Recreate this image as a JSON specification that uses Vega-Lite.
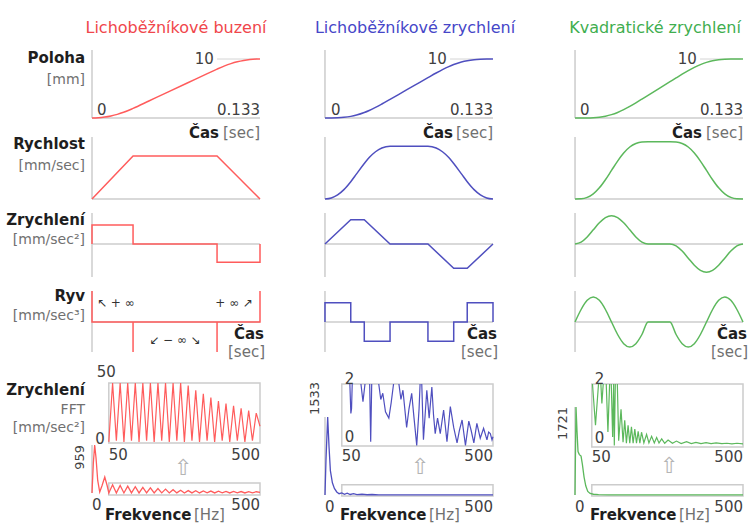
{
"$schema":"https://vega.github.io/schema/vega-lite/v6.json",
"padding":0,
"background":"white",
"config":{"view":{"stroke":null},"axis":{"disable":true},"text":{"font":"DejaVu Sans"}},
"columns":4,
"spacing":{"row":14,"column":7},
"align":"each",
"bounds":"flush",
"datasets":{
"pos1":[{"t":0,"v":0},{"t":0.005,"v":0.039},{"t":0.01,"v":0.154},{"t":0.015,"v":0.347},{"t":0.02,"v":0.617},{"t":0.025,"v":0.964},{"t":0.0325,"v":1.629},{"t":0.045,"v":2.882},{"t":0.06,"v":4.386},{"t":0.075,"v":5.89},{"t":0.09,"v":7.393},{"t":0.099,"v":8.296},{"t":0.105,"v":8.844},{"t":0.11,"v":9.22},{"t":0.115,"v":9.523},{"t":0.12,"v":9.751},{"t":0.125,"v":9.906},{"t":0.13,"v":9.987},{"t":0.133,"v":10}],
"pos2":[{"t":0,"v":0},{"t":0.005,"v":0.004},{"t":0.01,"v":0.032},{"t":0.015,"v":0.109},{"t":0.0204,"v":0.274},{"t":0.025,"v":0.501},{"t":0.0311,"v":0.93},{"t":0.035,"v":1.28},{"t":0.04,"v":1.797},{"t":0.045,"v":2.371},{"t":0.0515,"v":3.16},{"t":0.0615,"v":4.387},{"t":0.0715,"v":5.614},{"t":0.0815,"v":6.84},{"t":0.088,"v":7.629},{"t":0.093,"v":8.203},{"t":0.098,"v":8.72},{"t":0.1019,"v":9.07},{"t":0.108,"v":9.5},{"t":0.1126,"v":9.726},{"t":0.118,"v":9.891},{"t":0.123,"v":9.968},{"t":0.128,"v":9.996},{"t":0.133,"v":10}],
"pos3":[{"t":0,"v":0},{"t":0.00482,"v":0.001},{"t":0.00963,"v":0.009},{"t":0.01445,"v":0.046},{"t":0.01927,"v":0.135},{"t":0.02408,"v":0.304},{"t":0.0289,"v":0.571},{"t":0.03372,"v":0.944},{"t":0.03853,"v":1.416},{"t":0.04335,"v":1.967},{"t":0.04817,"v":2.571},{"t":0.05298,"v":3.203},{"t":0.0578,"v":3.843},{"t":0.0752,"v":6.157},{"t":0.08002,"v":6.797},{"t":0.08483,"v":7.429},{"t":0.08965,"v":8.033},{"t":0.09447,"v":8.584},{"t":0.09928,"v":9.056},{"t":0.1041,"v":9.429},{"t":0.10892,"v":9.696},{"t":0.11373,"v":9.865},{"t":0.11855,"v":9.955},{"t":0.12337,"v":9.991},{"t":0.12818,"v":9.999},{"t":0.133,"v":10}],
"vel1":[{"t":0,"v":0},{"t":0.0325,"v":100.25},{"t":0.099,"v":100.25},{"t":0.133,"v":0}],
"vel2":[{"t":0,"v":0},{"t":0.005,"v":2.42},{"t":0.01,"v":9.67},{"t":0.015,"v":21.76},{"t":0.0204,"v":40.24},{"t":0.025,"v":58.39},{"t":0.0311,"v":82.45},{"t":0.035,"v":96.37},{"t":0.04,"v":109.91},{"t":0.045,"v":118.61},{"t":0.0515,"v":122.7},{"t":0.0815,"v":122.7},{"t":0.088,"v":118.61},{"t":0.093,"v":109.91},{"t":0.098,"v":96.37},{"t":0.1019,"v":82.45},{"t":0.108,"v":58.39},{"t":0.1126,"v":40.24},{"t":0.118,"v":21.76},{"t":0.123,"v":9.67},{"t":0.128,"v":2.42},{"t":0.133,"v":0}],
"vel3":[{"t":0,"v":0},{"t":0.00482,"v":0.49},{"t":0.00963,"v":3.84},{"t":0.01445,"v":12.07},{"t":0.01927,"v":26.0},{"t":0.02408,"v":44.83},{"t":0.0289,"v":66.49},{"t":0.03372,"v":88.15},{"t":0.03853,"v":106.98},{"t":0.04335,"v":120.91},{"t":0.04817,"v":129.14},{"t":0.05298,"v":132.49},{"t":0.0578,"v":132.98},{"t":0.0752,"v":132.98},{"t":0.08002,"v":132.49},{"t":0.08483,"v":129.14},{"t":0.08965,"v":120.91},{"t":0.09447,"v":106.98},{"t":0.09928,"v":88.15},{"t":0.1041,"v":66.49},{"t":0.10892,"v":44.83},{"t":0.11373,"v":26.0},{"t":0.11855,"v":12.07},{"t":0.12337,"v":3.84},{"t":0.12818,"v":0.49},{"t":0.133,"v":0}],
"acc1":[{"t":0,"v":0},{"t":0,"v":3085},{"t":0.0325,"v":3085},{"t":0.0325,"v":0},{"t":0.099,"v":0},{"t":0.099,"v":-2949},{"t":0.133,"v":-2949},{"t":0.133,"v":0}],
"acc2":[{"t":0,"v":0},{"t":0.0204,"v":3945},{"t":0.0311,"v":3945},{"t":0.0515,"v":0},{"t":0.0815,"v":0},{"t":0.1019,"v":-3945},{"t":0.1126,"v":-3945},{"t":0.133,"v":0}],
"acc3":[{"t":0,"v":0},{"t":0.00482,"v":308.3},{"t":0.00963,"v":1150.4},{"t":0.01445,"v":2300.7},{"t":0.01927,"v":3451.1},{"t":0.02408,"v":4293.1},{"t":0.0289,"v":4601.4},{"t":0.03372,"v":4293.1},{"t":0.03853,"v":3451.1},{"t":0.04335,"v":2300.7},{"t":0.04817,"v":1150.4},{"t":0.05298,"v":308.3},{"t":0.0578,"v":0},{"t":0.0752,"v":0},{"t":0.08002,"v":-308.3},{"t":0.08483,"v":-1150.4},{"t":0.08965,"v":-2300.7},{"t":0.09447,"v":-3451.1},{"t":0.09928,"v":-4293.1},{"t":0.1041,"v":-4601.4},{"t":0.10892,"v":-4293.1},{"t":0.11373,"v":-3451.1},{"t":0.11855,"v":-2300.7},{"t":0.12337,"v":-1150.4},{"t":0.12818,"v":-308.3},{"t":0.133,"v":0}],
"jerk1":[{"t":0,"v":310000},{"t":0,"v":0},{"t":0.0325,"v":0},{"t":0.0325,"v":-300000},{"t":0.0325,"v":0},{"t":0.099,"v":0},{"t":0.099,"v":-300000},{"t":0.099,"v":0},{"t":0.133,"v":0},{"t":0.133,"v":310000}],
"jerk2":[{"t":0,"v":0},{"t":0,"v":193400},{"t":0.0204,"v":193400},{"t":0.0204,"v":0},{"t":0.0311,"v":0},{"t":0.0311,"v":-193400},{"t":0.0515,"v":-193400},{"t":0.0515,"v":0},{"t":0.0815,"v":0},{"t":0.0815,"v":-193400},{"t":0.1019,"v":-193400},{"t":0.1019,"v":0},{"t":0.1126,"v":0},{"t":0.1126,"v":193400},{"t":0.133,"v":193400},{"t":0.133,"v":0}],
"jerk3":[{"t":0,"v":0},{"t":0.00482,"v":125050},{"t":0.00963,"v":216590},{"t":0.01445,"v":250100},{"t":0.01927,"v":216590},{"t":0.02408,"v":125050},{"t":0.0289,"v":0},{"t":0.03372,"v":-125050},{"t":0.03853,"v":-216590},{"t":0.04335,"v":-250100},{"t":0.04817,"v":-216590},{"t":0.05298,"v":-125050},{"t":0.0578,"v":0},{"t":0.0752,"v":0},{"t":0.08002,"v":-125050},{"t":0.08483,"v":-216590},{"t":0.08965,"v":-250100},{"t":0.09447,"v":-216590},{"t":0.09928,"v":-125050},{"t":0.1041,"v":0},{"t":0.10892,"v":125050},{"t":0.11373,"v":216590},{"t":0.11855,"v":250100},{"t":0.12337,"v":216590},{"t":0.12818,"v":125050},{"t":0.133,"v":0}],
"fftm1":[{"f":0,"a":0},{"f":4,"a":600},{"f":8,"a":959},{"f":12,"a":700},{"f":17,"a":250},{"f":23,"a":20},{"f":30,"a":150},{"f":38,"a":320},{"f":45,"a":150},{"f":50,"a":1},{"f":61.3,"a":165},{"f":72.5,"a":2},{"f":83.8,"a":150},{"f":95,"a":1},{"f":106.3,"a":138},{"f":117.5,"a":2},{"f":128.8,"a":126},{"f":140,"a":1},{"f":151.3,"a":112},{"f":162.5,"a":2},{"f":173.8,"a":101},{"f":185,"a":1},{"f":196.3,"a":90},{"f":207.5,"a":2},{"f":218.8,"a":78},{"f":230,"a":1},{"f":241.3,"a":66},{"f":252.5,"a":2},{"f":263.8,"a":56},{"f":275,"a":1},{"f":286.3,"a":48},{"f":297.5,"a":2},{"f":308.8,"a":44},{"f":320,"a":1},{"f":331.3,"a":41},{"f":342.5,"a":2},{"f":353.8,"a":38},{"f":365,"a":1},{"f":376.3,"a":35},{"f":387.5,"a":2},{"f":398.8,"a":33},{"f":410,"a":1},{"f":421.3,"a":31},{"f":432.5,"a":2},{"f":443.8,"a":29},{"f":455,"a":1},{"f":466.3,"a":27},{"f":477.5,"a":2},{"f":488.8,"a":25},{"f":500,"a":14}],
"fftz1":[{"f":50,"a":1},{"f":61.3,"a":50},{"f":72.5,"a":2},{"f":83.8,"a":50},{"f":95,"a":1},{"f":106.3,"a":50},{"f":117.5,"a":2},{"f":128.8,"a":50},{"f":140,"a":1},{"f":151.3,"a":50},{"f":162.5,"a":2},{"f":173.8,"a":50},{"f":185,"a":1},{"f":196.3,"a":50},{"f":207.5,"a":2},{"f":218.8,"a":50},{"f":230,"a":1},{"f":241.3,"a":50},{"f":252.5,"a":2},{"f":263.8,"a":50},{"f":275,"a":1},{"f":286.3,"a":48},{"f":297.5,"a":2},{"f":308.8,"a":44},{"f":320,"a":1},{"f":331.3,"a":41},{"f":342.5,"a":2},{"f":353.8,"a":38},{"f":365,"a":1},{"f":376.3,"a":35},{"f":387.5,"a":2},{"f":398.8,"a":33},{"f":410,"a":1},{"f":421.3,"a":31},{"f":432.5,"a":2},{"f":443.8,"a":29},{"f":455,"a":1},{"f":466.3,"a":27},{"f":477.5,"a":2},{"f":488.8,"a":25},{"f":500,"a":14}],
"fftm2":[{"f":0,"a":0},{"f":3,"a":700},{"f":8,"a":1533},{"f":12,"a":950},{"f":16,"a":480},{"f":22,"a":240},{"f":28,"a":130},{"f":35,"a":60},{"f":42,"a":25},{"f":50,"a":40},{"f":58,"a":15},{"f":66,"a":35},{"f":75,"a":10},{"f":85,"a":25},{"f":95,"a":8},{"f":110,"a":15},{"f":125,"a":5},{"f":140,"a":10},{"f":160,"a":4},{"f":200,"a":3},{"f":250,"a":2},{"f":300,"a":2},{"f":400,"a":1},{"f":500,"a":1}],
"fftz2":[{"f":74,"a":2},{"f":77,"a":1.05},{"f":79,"a":1.2},{"f":81,"a":2},{"f":84,"a":null},{"f":107,"a":2},{"f":113,"a":1.43},{"f":119,"a":2},{"f":122,"a":null},{"f":133,"a":2},{"f":136,"a":0.14},{"f":139,"a":2},{"f":142,"a":null},{"f":160,"a":2},{"f":166,"a":1.5},{"f":172,"a":1.7},{"f":180,"a":1.1},{"f":190,"a":0.9},{"f":197,"a":1.4},{"f":204,"a":2},{"f":208,"a":null},{"f":220,"a":2},{"f":226,"a":1.5},{"f":232,"a":1.8},{"f":243,"a":0.6},{"f":250,"a":1.2},{"f":258,"a":1.7},{"f":265,"a":0.9},{"f":273,"a":0.02},{"f":280,"a":1.2},{"f":283,"a":2},{"f":285,"a":null},{"f":288,"a":2},{"f":293,"a":0.2},{"f":298,"a":1},{"f":303,"a":1.8},{"f":310,"a":0.9},{"f":318,"a":1.9},{"f":323,"a":1},{"f":328,"a":0.4},{"f":335,"a":0.9},{"f":343,"a":0.4},{"f":353,"a":1.16},{"f":363,"a":0.14},{"f":373,"a":1.27},{"f":383,"a":0.6},{"f":393,"a":0.1},{"f":400,"a":0.5},{"f":408,"a":0.84},{"f":418,"a":0.02},{"f":428,"a":0.8},{"f":435,"a":0.5},{"f":443,"a":0.1},{"f":452,"a":0.73},{"f":462,"a":0.25},{"f":472,"a":0.57},{"f":482,"a":0.2},{"f":487,"a":0.45},{"f":492,"a":0.4},{"f":497,"a":0.2},{"f":500,"a":0.3}],
"fftm3":[{"f":0,"a":0},{"f":3,"a":1721},{"f":6,"a":1250},{"f":9,"a":850},{"f":13,"a":790},{"f":18,"a":760},{"f":22,"a":600},{"f":27,"a":350},{"f":32,"a":180},{"f":38,"a":70},{"f":45,"a":30},{"f":55,"a":15},{"f":70,"a":6},{"f":100,"a":3},{"f":150,"a":2},{"f":250,"a":1},{"f":500,"a":1}],
"fftz3":[{"f":52,"a":2},{"f":61,"a":0.69},{"f":70,"a":2},{"f":74,"a":null},{"f":77,"a":2},{"f":80,"a":1.38},{"f":84,"a":2},{"f":88,"a":null},{"f":93,"a":2},{"f":98,"a":0.48},{"f":103,"a":2},{"f":106,"a":null},{"f":108,"a":2},{"f":112,"a":0.32},{"f":115,"a":2},{"f":117,"a":0.05},{"f":120,"a":2},{"f":123,"a":null},{"f":126,"a":2},{"f":130,"a":0.2},{"f":137,"a":1.2},{"f":143,"a":0.15},{"f":148,"a":0.85},{"f":153,"a":0.12},{"f":158,"a":0.69},{"f":163,"a":0.12},{"f":168,"a":0.64},{"f":173,"a":0.12},{"f":178,"a":0.57},{"f":183,"a":0.12},{"f":188,"a":0.5},{"f":193,"a":0.12},{"f":198,"a":0.47},{"f":205,"a":0.13},{"f":213,"a":0.4},{"f":220,"a":0.13},{"f":228,"a":0.34},{"f":236,"a":0.13},{"f":243,"a":0.3},{"f":250,"a":0.13},{"f":258,"a":0.26},{"f":267,"a":0.12},{"f":277,"a":0.22},{"f":290,"a":0.12},{"f":302,"a":0.19},{"f":316,"a":0.11},{"f":332,"a":0.17},{"f":346,"a":0.11},{"f":360,"a":0.15},{"f":375,"a":0.11},{"f":390,"a":0.14},{"f":405,"a":0.11},{"f":420,"a":0.13},{"f":437,"a":0.11},{"f":452,"a":0.12},{"f":467,"a":0.1},{"f":482,"a":0.12},{"f":500,"a":0.1}]
},
"concat":[
{"width":85,"height":36,"data":{"values":[{}]},"mark":{"type":"text","text":" "}},
{"width":168,"height":36,"data":{"values":[{}]},"mark":{"type":"text","text":"Lichoběžníkové buzení","fontSize":16,"color":"#f0464b","align":"center","baseline":"alphabetic","dy":-3},"encoding":{"x":{"datum":0.0665,"type":"quantitative","scale":{"domain":[0,0.133],"nice":false,"zero":false}},"y":{"datum":0,"type":"quantitative","scale":{"domain":[0,1],"nice":false,"zero":false}}}},
{"width":226,"height":36,"data":{"values":[{}]},"mark":{"type":"text","text":"Lichoběžníkové zrychlení","fontSize":16,"color":"#4646c8","align":"center","baseline":"alphabetic","dy":-3,"dx":6},"encoding":{"x":{"datum":0.0665,"type":"quantitative","scale":{"domain":[-0.0459,0.133],"nice":false,"zero":false}},"y":{"datum":0,"type":"quantitative","scale":{"domain":[0,1],"nice":false,"zero":false}}}},
{"width":243,"height":36,"data":{"values":[{}]},"mark":{"type":"text","text":"Kvadratické zrychlení","fontSize":16,"color":"#3fae4f","align":"center","baseline":"alphabetic","dy":-3,"dx":-4},"encoding":{"x":{"datum":0.0665,"type":"quantitative","scale":{"domain":[-0.0594,0.133],"nice":false,"zero":false}},"y":{"datum":0,"type":"quantitative","scale":{"domain":[0,1],"nice":false,"zero":false}}}},

{"width":85,"height":68,"data":{"values":[{}]},"layer":[
{"mark":{"type":"text","text":"Poloha","fontSize":15,"fontWeight":"bold","color":"#1e1e1e","align":"right","baseline":"middle"},"encoding":{"x":{"datum":1,"type":"quantitative","scale":{"domain":[0,1]}},"y":{"datum":10.17,"type":"quantitative","scale":{"domain":[0,11.53],"nice":false,"zero":false}}}},
{"mark":{"type":"text","text":"[mm]","fontSize":14,"color":"#707070","align":"right","baseline":"middle"},"encoding":{"x":{"datum":1,"type":"quantitative"},"y":{"datum":6.44,"type":"quantitative"}}}]},
{"width":168,"height":68,"data":{"values":[{}]},"layer":[
{"mark":{"type":"rule","color":"#cccccc","strokeWidth":1.5},"encoding":{"x":{"datum":0,"type":"quantitative","scale":{"domain":[0,0.133],"nice":false,"zero":false}},"y":{"datum":0,"type":"quantitative","scale":{"domain":[0,11.53],"nice":false,"zero":false}},"y2":{"datum":11.53}}},
{"mark":{"type":"rule","color":"#cccccc","strokeWidth":1.5},"encoding":{"x":{"datum":0,"type":"quantitative"},"x2":{"datum":0.133},"y":{"datum":0,"type":"quantitative"}}},
{"mark":{"type":"rule","color":"#d4d4d4","strokeWidth":1},"encoding":{"x":{"datum":0.099,"type":"quantitative"},"x2":{"datum":0.131},"y":{"datum":10,"type":"quantitative"}}},
{"data":{"name":"pos1"},"mark":{"type":"line","color":"#ff5c5c","strokeWidth":1.5,"interpolate":"monotone"},"encoding":{"x":{"field":"t","type":"quantitative"},"y":{"field":"v","type":"quantitative"}}},
{"mark":{"type":"text","text":"10","fontSize":15,"color":"#404040","align":"right","baseline":"middle"},"encoding":{"x":{"datum":0.0965,"type":"quantitative"},"y":{"datum":10,"type":"quantitative"}}},
{"mark":{"type":"text","text":"0","fontSize":15,"color":"#404040","align":"left","baseline":"alphabetic","dx":5,"dy":-3},"encoding":{"x":{"datum":0,"type":"quantitative"},"y":{"datum":0,"type":"quantitative"}}},
{"mark":{"type":"text","text":"0.133","fontSize":15,"color":"#404040","align":"right","baseline":"alphabetic","dy":-3},"encoding":{"x":{"datum":0.133,"type":"quantitative"},"y":{"datum":0,"type":"quantitative"}}},
{"mark":{"type":"text","text":"Čas","fontSize":15,"fontWeight":"bold","color":"#1e1e1e","align":"right","baseline":"alphabetic","dx":-41,"dy":20},"encoding":{"x":{"datum":0.133,"type":"quantitative"},"y":{"datum":0,"type":"quantitative"}}},
{"mark":{"type":"text","text":"[sec]","fontSize":15,"color":"#707070","align":"right","baseline":"alphabetic","dy":20},"encoding":{"x":{"datum":0.133,"type":"quantitative"},"y":{"datum":0,"type":"quantitative"}}}]},
{"width":226,"height":68,"data":{"values":[{}]},"layer":[
{"mark":{"type":"rule","color":"#cccccc","strokeWidth":1.5},"encoding":{"x":{"datum":0,"type":"quantitative","scale":{"domain":[-0.0459,0.133],"nice":false,"zero":false}},"y":{"datum":0,"type":"quantitative","scale":{"domain":[0,11.53],"nice":false,"zero":false}},"y2":{"datum":11.53}}},
{"mark":{"type":"rule","color":"#cccccc","strokeWidth":1.5},"encoding":{"x":{"datum":0,"type":"quantitative"},"x2":{"datum":0.133},"y":{"datum":0,"type":"quantitative"}}},
{"mark":{"type":"rule","color":"#d4d4d4","strokeWidth":1},"encoding":{"x":{"datum":0.099,"type":"quantitative"},"x2":{"datum":0.131},"y":{"datum":10,"type":"quantitative"}}},
{"data":{"name":"pos2"},"mark":{"type":"line","color":"#4f4fbf","strokeWidth":1.5,"interpolate":"monotone"},"encoding":{"x":{"field":"t","type":"quantitative"},"y":{"field":"v","type":"quantitative"}}},
{"mark":{"type":"text","text":"10","fontSize":15,"color":"#404040","align":"right","baseline":"middle"},"encoding":{"x":{"datum":0.0965,"type":"quantitative"},"y":{"datum":10,"type":"quantitative"}}},
{"mark":{"type":"text","text":"0","fontSize":15,"color":"#404040","align":"left","baseline":"alphabetic","dx":6,"dy":-3},"encoding":{"x":{"datum":0,"type":"quantitative"},"y":{"datum":0,"type":"quantitative"}}},
{"mark":{"type":"text","text":"0.133","fontSize":15,"color":"#404040","align":"right","baseline":"alphabetic","dy":-3},"encoding":{"x":{"datum":0.133,"type":"quantitative"},"y":{"datum":0,"type":"quantitative"}}},
{"mark":{"type":"text","text":"Čas","fontSize":15,"fontWeight":"bold","color":"#1e1e1e","align":"right","baseline":"alphabetic","dx":-40,"dy":20},"encoding":{"x":{"datum":0.133,"type":"quantitative"},"y":{"datum":0,"type":"quantitative"}}},
{"mark":{"type":"text","text":"[sec]","fontSize":15,"color":"#707070","align":"right","baseline":"alphabetic","dy":20},"encoding":{"x":{"datum":0.133,"type":"quantitative"},"y":{"datum":0,"type":"quantitative"}}}]},
{"width":243,"height":68,"data":{"values":[{}]},"layer":[
{"mark":{"type":"rule","color":"#cccccc","strokeWidth":1.5},"encoding":{"x":{"datum":0,"type":"quantitative","scale":{"domain":[-0.0594,0.133],"nice":false,"zero":false}},"y":{"datum":0,"type":"quantitative","scale":{"domain":[0,11.53],"nice":false,"zero":false}},"y2":{"datum":11.53}}},
{"mark":{"type":"rule","color":"#cccccc","strokeWidth":1.5},"encoding":{"x":{"datum":0,"type":"quantitative"},"x2":{"datum":0.133},"y":{"datum":0,"type":"quantitative"}}},
{"mark":{"type":"rule","color":"#d4d4d4","strokeWidth":1},"encoding":{"x":{"datum":0.099,"type":"quantitative"},"x2":{"datum":0.131},"y":{"datum":10,"type":"quantitative"}}},
{"data":{"name":"pos3"},"mark":{"type":"line","color":"#5cb85c","strokeWidth":1.5,"interpolate":"monotone"},"encoding":{"x":{"field":"t","type":"quantitative"},"y":{"field":"v","type":"quantitative"}}},
{"mark":{"type":"text","text":"10","fontSize":15,"color":"#404040","align":"right","baseline":"middle"},"encoding":{"x":{"datum":0.0965,"type":"quantitative"},"y":{"datum":10,"type":"quantitative"}}},
{"mark":{"type":"text","text":"0","fontSize":15,"color":"#404040","align":"left","baseline":"alphabetic","dx":5,"dy":-3},"encoding":{"x":{"datum":0,"type":"quantitative"},"y":{"datum":0,"type":"quantitative"}}},
{"mark":{"type":"text","text":"0.133","fontSize":15,"color":"#404040","align":"right","baseline":"alphabetic","dy":-3},"encoding":{"x":{"datum":0.133,"type":"quantitative"},"y":{"datum":0,"type":"quantitative"}}},
{"mark":{"type":"text","text":"Čas","fontSize":15,"fontWeight":"bold","color":"#1e1e1e","align":"right","baseline":"alphabetic","dx":-41,"dy":20},"encoding":{"x":{"datum":0.133,"type":"quantitative"},"y":{"datum":0,"type":"quantitative"}}},
{"mark":{"type":"text","text":"[sec]","fontSize":15,"color":"#707070","align":"right","baseline":"alphabetic","dy":20},"encoding":{"x":{"datum":0.133,"type":"quantitative"},"y":{"datum":0,"type":"quantitative"}}}]},

{"width":85,"height":67,"data":{"values":[{}]},"layer":[
{"mark":{"type":"text","text":"Rychlost","fontSize":15,"fontWeight":"bold","color":"#1e1e1e","align":"right","baseline":"middle"},"encoding":{"x":{"datum":1,"type":"quantitative","scale":{"domain":[0,1]}},"y":{"datum":128,"type":"quantitative","scale":{"domain":[0,155.8],"nice":false,"zero":false}}}},
{"mark":{"type":"text","text":"[mm/sec]","fontSize":14,"color":"#707070","align":"right","baseline":"middle"},"encoding":{"x":{"datum":1,"type":"quantitative"},"y":{"datum":76.7,"type":"quantitative"}}}]},
{"width":168,"height":67,"data":{"values":[{}]},"layer":[
{"mark":{"type":"rule","color":"#cccccc","strokeWidth":1.5},"encoding":{"x":{"datum":0,"type":"quantitative","scale":{"domain":[0,0.133],"nice":false,"zero":false}},"y":{"datum":0,"type":"quantitative","scale":{"domain":[0,155.8],"nice":false,"zero":false}},"y2":{"datum":144}}},
{"mark":{"type":"rule","color":"#cccccc","strokeWidth":1.5},"encoding":{"x":{"datum":0,"type":"quantitative"},"x2":{"datum":0.133},"y":{"datum":0,"type":"quantitative"}}},
{"data":{"name":"vel1"},"mark":{"type":"line","color":"#ff5c5c","strokeWidth":1.5},"encoding":{"x":{"field":"t","type":"quantitative"},"y":{"field":"v","type":"quantitative"}}}]},
{"width":226,"height":67,"data":{"values":[{}]},"layer":[
{"mark":{"type":"rule","color":"#cccccc","strokeWidth":1.5},"encoding":{"x":{"datum":0,"type":"quantitative","scale":{"domain":[-0.0459,0.133],"nice":false,"zero":false}},"y":{"datum":0,"type":"quantitative","scale":{"domain":[0,155.8],"nice":false,"zero":false}},"y2":{"datum":144}}},
{"mark":{"type":"rule","color":"#cccccc","strokeWidth":1.5},"encoding":{"x":{"datum":0,"type":"quantitative"},"x2":{"datum":0.133},"y":{"datum":0,"type":"quantitative"}}},
{"data":{"name":"vel2"},"mark":{"type":"line","color":"#4f4fbf","strokeWidth":1.5,"interpolate":"monotone"},"encoding":{"x":{"field":"t","type":"quantitative"},"y":{"field":"v","type":"quantitative"}}}]},
{"width":243,"height":67,"data":{"values":[{}]},"layer":[
{"mark":{"type":"rule","color":"#cccccc","strokeWidth":1.5},"encoding":{"x":{"datum":0,"type":"quantitative","scale":{"domain":[-0.0594,0.133],"nice":false,"zero":false}},"y":{"datum":0,"type":"quantitative","scale":{"domain":[0,155.8],"nice":false,"zero":false}},"y2":{"datum":144}}},
{"mark":{"type":"rule","color":"#cccccc","strokeWidth":1.5},"encoding":{"x":{"datum":0,"type":"quantitative"},"x2":{"datum":0.133},"y":{"datum":0,"type":"quantitative"}}},
{"data":{"name":"vel3"},"mark":{"type":"line","color":"#5cb85c","strokeWidth":1.5,"interpolate":"monotone"},"encoding":{"x":{"field":"t","type":"quantitative"},"y":{"field":"v","type":"quantitative"}}}]},

{"width":85,"height":64,"data":{"values":[{}]},"layer":[
{"mark":{"type":"text","text":"Zrychlení","fontSize":15,"fontWeight":"bold","color":"#1e1e1e","align":"right","baseline":"middle"},"encoding":{"x":{"datum":1,"type":"quantitative","scale":{"domain":[0,1]}},"y":{"datum":3898,"type":"quantitative","scale":{"domain":[-5359,5034],"nice":false,"zero":false}}}},
{"mark":{"type":"text","text":"[mm/sec²]","fontSize":14,"color":"#707070","align":"right","baseline":"middle"},"encoding":{"x":{"datum":1,"type":"quantitative"},"y":{"datum":650,"type":"quantitative"}}}]},
{"width":168,"height":64,"data":{"values":[{}]},"layer":[
{"mark":{"type":"rule","color":"#cccccc","strokeWidth":1.5},"encoding":{"x":{"datum":0,"type":"quantitative","scale":{"domain":[0,0.133],"nice":false,"zero":false}},"y":{"datum":-5359,"type":"quantitative","scale":{"domain":[-5359,5034],"nice":false,"zero":false}},"y2":{"datum":5034}}},
{"mark":{"type":"rule","color":"#cccccc","strokeWidth":1.5},"encoding":{"x":{"datum":0,"type":"quantitative"},"x2":{"datum":0.133},"y":{"datum":0,"type":"quantitative"}}},
{"data":{"name":"acc1"},"mark":{"type":"line","color":"#ff5c5c","strokeWidth":1.5},"encoding":{"x":{"field":"t","type":"quantitative"},"y":{"field":"v","type":"quantitative"},"order":{"value":null}}}]},
{"width":226,"height":64,"data":{"values":[{}]},"layer":[
{"mark":{"type":"rule","color":"#cccccc","strokeWidth":1.5},"encoding":{"x":{"datum":0,"type":"quantitative","scale":{"domain":[-0.0459,0.133],"nice":false,"zero":false}},"y":{"datum":-5359,"type":"quantitative","scale":{"domain":[-5359,5034],"nice":false,"zero":false}},"y2":{"datum":5034}}},
{"mark":{"type":"rule","color":"#cccccc","strokeWidth":1.5},"encoding":{"x":{"datum":0,"type":"quantitative"},"x2":{"datum":0.133},"y":{"datum":0,"type":"quantitative"}}},
{"data":{"name":"acc2"},"mark":{"type":"line","color":"#4f4fbf","strokeWidth":1.5},"encoding":{"x":{"field":"t","type":"quantitative"},"y":{"field":"v","type":"quantitative"},"order":{"value":null}}}]},
{"width":243,"height":64,"data":{"values":[{}]},"layer":[
{"mark":{"type":"rule","color":"#cccccc","strokeWidth":1.5},"encoding":{"x":{"datum":0,"type":"quantitative","scale":{"domain":[-0.0594,0.133],"nice":false,"zero":false}},"y":{"datum":-5359,"type":"quantitative","scale":{"domain":[-5359,5034],"nice":false,"zero":false}},"y2":{"datum":5034}}},
{"mark":{"type":"rule","color":"#cccccc","strokeWidth":1.5},"encoding":{"x":{"datum":0,"type":"quantitative"},"x2":{"datum":0.133},"y":{"datum":0,"type":"quantitative"}}},
{"data":{"name":"acc3"},"mark":{"type":"line","color":"#5cb85c","strokeWidth":1.5,"interpolate":"monotone"},"encoding":{"x":{"field":"t","type":"quantitative"},"y":{"field":"v","type":"quantitative"}}}]},

{"width":85,"height":61,"data":{"values":[{}]},"layer":[
{"mark":{"type":"text","text":"Ryv","fontSize":15,"fontWeight":"bold","color":"#1e1e1e","align":"right","baseline":"middle"},"encoding":{"x":{"datum":1,"type":"quantitative","scale":{"domain":[0,1]}},"y":{"datum":260000,"type":"quantitative","scale":{"domain":[-300000,310000],"nice":false,"zero":false}}}},
{"mark":{"type":"text","text":"[mm/sec³]","fontSize":14,"color":"#707070","align":"right","baseline":"middle"},"encoding":{"x":{"datum":1,"type":"quantitative"},"y":{"datum":60000,"type":"quantitative"}}}]},
{"width":168,"height":61,"data":{"values":[{}]},"layer":[
{"mark":{"type":"rule","color":"#cccccc","strokeWidth":1.5},"encoding":{"x":{"datum":0,"type":"quantitative","scale":{"domain":[0,0.133],"nice":false,"zero":false}},"y":{"datum":-300000,"type":"quantitative","scale":{"domain":[-300000,310000],"nice":false,"zero":false}},"y2":{"datum":310000}}},
{"mark":{"type":"rule","color":"#cccccc","strokeWidth":1.5},"encoding":{"x":{"datum":0,"type":"quantitative"},"x2":{"datum":0.133},"y":{"datum":0,"type":"quantitative"}}},
{"data":{"name":"jerk1"},"mark":{"type":"line","color":"#ff5c5c","strokeWidth":1.5},"encoding":{"x":{"field":"t","type":"quantitative"},"y":{"field":"v","type":"quantitative"},"order":{"value":null}}},
{"mark":{"type":"text","text":"↖ + ∞","fontSize":12,"color":"#333333","align":"left","baseline":"middle","dx":5},"encoding":{"x":{"datum":0,"type":"quantitative"},"y":{"datum":190000,"type":"quantitative"}}},
{"mark":{"type":"text","text":"+ ∞ ↗","fontSize":12,"color":"#333333","align":"right","baseline":"middle","dx":-7},"encoding":{"x":{"datum":0.133,"type":"quantitative"},"y":{"datum":190000,"type":"quantitative"}}},
{"mark":{"type":"text","text":"↙  − ∞  ↘","fontSize":12,"color":"#333333","align":"center","baseline":"middle"},"encoding":{"x":{"datum":0.0657,"type":"quantitative"},"y":{"datum":-180000,"type":"quantitative"}}},
{"mark":{"type":"text","text":"Čas","fontSize":15,"fontWeight":"bold","color":"#1e1e1e","align":"right","baseline":"alphabetic","dx":4,"dy":17},"encoding":{"x":{"datum":0.133,"type":"quantitative"},"y":{"datum":0,"type":"quantitative"}}},
{"mark":{"type":"text","text":"[sec]","fontSize":15,"color":"#707070","align":"right","baseline":"alphabetic","dx":5,"dy":35},"encoding":{"x":{"datum":0.133,"type":"quantitative"},"y":{"datum":0,"type":"quantitative"}}}]},
{"width":226,"height":61,"data":{"values":[{}]},"layer":[
{"mark":{"type":"rule","color":"#cccccc","strokeWidth":1.5},"encoding":{"x":{"datum":0,"type":"quantitative","scale":{"domain":[-0.0459,0.133],"nice":false,"zero":false}},"y":{"datum":-300000,"type":"quantitative","scale":{"domain":[-300000,310000],"nice":false,"zero":false}},"y2":{"datum":310000}}},
{"mark":{"type":"rule","color":"#cccccc","strokeWidth":1.5},"encoding":{"x":{"datum":0,"type":"quantitative"},"x2":{"datum":0.133},"y":{"datum":0,"type":"quantitative"}}},
{"data":{"name":"jerk2"},"mark":{"type":"line","color":"#4f4fbf","strokeWidth":1.5},"encoding":{"x":{"field":"t","type":"quantitative"},"y":{"field":"v","type":"quantitative"},"order":{"value":null}}},
{"mark":{"type":"text","text":"Čas","fontSize":15,"fontWeight":"bold","color":"#1e1e1e","align":"right","baseline":"alphabetic","dx":4,"dy":17},"encoding":{"x":{"datum":0.133,"type":"quantitative"},"y":{"datum":0,"type":"quantitative"}}},
{"mark":{"type":"text","text":"[sec]","fontSize":15,"color":"#707070","align":"right","baseline":"alphabetic","dx":5,"dy":35},"encoding":{"x":{"datum":0.133,"type":"quantitative"},"y":{"datum":0,"type":"quantitative"}}}]},
{"width":243,"height":61,"data":{"values":[{}]},"layer":[
{"mark":{"type":"rule","color":"#cccccc","strokeWidth":1.5},"encoding":{"x":{"datum":0,"type":"quantitative","scale":{"domain":[-0.0594,0.133],"nice":false,"zero":false}},"y":{"datum":-300000,"type":"quantitative","scale":{"domain":[-300000,310000],"nice":false,"zero":false}},"y2":{"datum":310000}}},
{"mark":{"type":"rule","color":"#cccccc","strokeWidth":1.5},"encoding":{"x":{"datum":0,"type":"quantitative"},"x2":{"datum":0.133},"y":{"datum":0,"type":"quantitative"}}},
{"data":{"name":"jerk3"},"mark":{"type":"line","color":"#5cb85c","strokeWidth":1.5,"interpolate":"monotone"},"encoding":{"x":{"field":"t","type":"quantitative"},"y":{"field":"v","type":"quantitative"}}},
{"mark":{"type":"text","text":"Čas","fontSize":15,"fontWeight":"bold","color":"#1e1e1e","align":"right","baseline":"alphabetic","dx":4,"dy":17},"encoding":{"x":{"datum":0.133,"type":"quantitative"},"y":{"datum":0,"type":"quantitative"}}},
{"mark":{"type":"text","text":"[sec]","fontSize":15,"color":"#707070","align":"right","baseline":"alphabetic","dx":5,"dy":35},"encoding":{"x":{"datum":0.133,"type":"quantitative"},"y":{"datum":0,"type":"quantitative"}}}]},

{"width":85,"height":129,"data":{"values":[{}]},"layer":[
{"mark":{"type":"text","text":"Zrychlení","fontSize":15,"fontWeight":"bold","color":"#1e1e1e","align":"right","baseline":"middle"},"encoding":{"x":{"datum":1,"type":"quantitative","scale":{"domain":[0,1]}},"y":{"datum":2058,"type":"quantitative","scale":{"domain":[-40,2537],"nice":false,"zero":false}}}},
{"mark":{"type":"text","text":"FFT","fontSize":14,"color":"#707070","align":"right","baseline":"middle"},"encoding":{"x":{"datum":1,"type":"quantitative"},"y":{"datum":1658,"type":"quantitative"}}},
{"mark":{"type":"text","text":"[mm/sec²]","fontSize":14,"color":"#707070","align":"right","baseline":"middle"},"encoding":{"x":{"datum":1,"type":"quantitative"},"y":{"datum":1299,"type":"quantitative"}}}]},
{"width":168,"height":129,"resolve":{"scale":{"y":"independent"}},"layer":[
{"data":{"values":[{}]},"layer":[
{"mark":{"type":"rule","color":"#cccccc","strokeWidth":1.5},"encoding":{"x":{"datum":0,"type":"quantitative","scale":{"domain":[0,500],"nice":false,"zero":false}},"y":{"datum":0,"type":"quantitative","scale":{"domain":[-40,2537],"nice":false,"zero":false}},"y2":{"datum":959}}},
{"mark":{"type":"rect","fillOpacity":0,"stroke":"#cccccc","strokeWidth":1.5},"encoding":{"x":{"datum":50,"type":"quantitative"},"x2":{"datum":500},"y":{"datum":-40,"type":"quantitative"},"y2":{"datum":200}}},
{"data":{"name":"fftm1"},"mark":{"type":"line","color":"#ff5c5c","strokeWidth":1.3},"encoding":{"x":{"field":"f","type":"quantitative"},"y":{"field":"a","type":"quantitative"}}},
{"mark":{"type":"text","text":"959","fontSize":13,"color":"#404040","angle":270,"align":"right","baseline":"alphabetic","dy":-8},"encoding":{"x":{"datum":0,"type":"quantitative"},"y":{"datum":959,"type":"quantitative"}}},
{"mark":{"type":"text","text":"0","fontSize":15,"color":"#404040","align":"left","baseline":"alphabetic","dy":17},"encoding":{"x":{"datum":0,"type":"quantitative"},"y":{"datum":0,"type":"quantitative"}}},
{"mark":{"type":"text","text":"500","fontSize":15,"color":"#404040","align":"right","baseline":"alphabetic","dy":17},"encoding":{"x":{"datum":500,"type":"quantitative"},"y":{"datum":0,"type":"quantitative"}}},
{"mark":{"type":"text","text":"Frekvence","fontSize":15,"fontWeight":"bold","color":"#1e1e1e","align":"left","baseline":"alphabetic","dx":13,"dy":27},"encoding":{"x":{"datum":0,"type":"quantitative"},"y":{"datum":0,"type":"quantitative"}}},
{"mark":{"type":"text","text":"[Hz]","fontSize":15,"color":"#707070","align":"left","baseline":"alphabetic","dx":102,"dy":27},"encoding":{"x":{"datum":0,"type":"quantitative"},"y":{"datum":0,"type":"quantitative"}}},
{"mark":{"type":"text","text":"⇧","fontSize":22,"color":"#b4b4b4","align":"center","baseline":"middle"},"encoding":{"x":{"datum":271,"type":"quantitative"},"y":{"datum":500,"type":"quantitative"}}}]},
{"data":{"values":[{}]},"layer":[
{"mark":{"type":"rect","fillOpacity":0,"stroke":"#cccccc","strokeWidth":1.5},"encoding":{"x":{"datum":50,"type":"quantitative"},"x2":{"datum":500},"y":{"datum":0,"type":"quantitative","scale":{"domain":[-43.3,64.2],"nice":false,"zero":false}},"y2":{"datum":50}}},
{"data":{"name":"fftz1"},"mark":{"type":"line","color":"#ff5c5c","strokeWidth":1.2},"encoding":{"x":{"field":"f","type":"quantitative"},"y":{"field":"a","type":"quantitative"}}},
{"mark":{"type":"text","text":"50","fontSize":15,"color":"#404040","align":"left","baseline":"alphabetic","dx":-12,"dy":-6},"encoding":{"x":{"datum":50,"type":"quantitative"},"y":{"datum":50,"type":"quantitative"}}},
{"mark":{"type":"text","text":"0","fontSize":15,"color":"#404040","align":"right","baseline":"alphabetic","dx":-4,"dy":1},"encoding":{"x":{"datum":50,"type":"quantitative"},"y":{"datum":0,"type":"quantitative"}}},
{"mark":{"type":"text","text":"50","fontSize":15,"color":"#404040","align":"left","baseline":"alphabetic","dy":17},"encoding":{"x":{"datum":50,"type":"quantitative"},"y":{"datum":0,"type":"quantitative"}}},
{"mark":{"type":"text","text":"500","fontSize":15,"color":"#404040","align":"right","baseline":"alphabetic","dy":17},"encoding":{"x":{"datum":500,"type":"quantitative"},"y":{"datum":0,"type":"quantitative"}}}]}]},
{"width":226,"height":129,"resolve":{"scale":{"y":"independent"}},"layer":[
{"data":{"values":[{}]},"layer":[
{"mark":{"type":"rule","color":"#cccccc","strokeWidth":1.5},"encoding":{"x":{"datum":0,"type":"quantitative","scale":{"domain":[-172.6,500],"nice":false,"zero":false}},"y":{"datum":0,"type":"quantitative","scale":{"domain":[0,2535],"nice":false,"zero":false}},"y2":{"datum":1533}}},
{"mark":{"type":"rect","fillOpacity":0,"stroke":"#cccccc","strokeWidth":1.5},"encoding":{"x":{"datum":50,"type":"quantitative"},"x2":{"datum":500},"y":{"datum":-20,"type":"quantitative"},"y2":{"datum":200}}},
{"data":{"name":"fftm2"},"mark":{"type":"line","color":"#4f4fbf","strokeWidth":1.3},"encoding":{"x":{"field":"f","type":"quantitative"},"y":{"field":"a","type":"quantitative"}}},
{"mark":{"type":"text","text":"1533","fontSize":13,"color":"#404040","angle":270,"align":"left","baseline":"alphabetic","dx":2,"dy":-6},"encoding":{"x":{"datum":0,"type":"quantitative"},"y":{"datum":1533,"type":"quantitative"}}},
{"mark":{"type":"text","text":"0","fontSize":15,"color":"#404040","align":"left","baseline":"alphabetic","dy":17},"encoding":{"x":{"datum":0,"type":"quantitative"},"y":{"datum":0,"type":"quantitative"}}},
{"mark":{"type":"text","text":"500","fontSize":15,"color":"#404040","align":"right","baseline":"alphabetic","dy":17},"encoding":{"x":{"datum":500,"type":"quantitative"},"y":{"datum":0,"type":"quantitative"}}},
{"mark":{"type":"text","text":"Frekvence","fontSize":15,"fontWeight":"bold","color":"#1e1e1e","align":"left","baseline":"alphabetic","dx":15,"dy":25},"encoding":{"x":{"datum":0,"type":"quantitative"},"y":{"datum":0,"type":"quantitative"}}},
{"mark":{"type":"text","text":"[Hz]","fontSize":15,"color":"#707070","align":"left","baseline":"alphabetic","dx":104,"dy":25},"encoding":{"x":{"datum":0,"type":"quantitative"},"y":{"datum":0,"type":"quantitative"}}},
{"mark":{"type":"text","text":"⇧","fontSize":22,"color":"#b4b4b4","align":"center","baseline":"middle"},"encoding":{"x":{"datum":283,"type":"quantitative"},"y":{"datum":550,"type":"quantitative"}}}]},
{"data":{"values":[{}]},"layer":[
{"mark":{"type":"rect","fillOpacity":0,"stroke":"#cccccc","strokeWidth":1.5},"encoding":{"x":{"datum":50,"type":"quantitative"},"x2":{"datum":500},"y":{"datum":0,"type":"quantitative","scale":{"domain":[-1.58,2.58],"nice":false,"zero":false}},"y2":{"datum":2}}},
{"data":{"name":"fftz2"},"mark":{"type":"line","color":"#4f4fbf","strokeWidth":1.2,"invalid":"break-paths-filter-domains"},"encoding":{"x":{"field":"f","type":"quantitative"},"y":{"field":"a","type":"quantitative"}}},
{"mark":{"type":"text","text":"2","fontSize":15,"color":"#404040","align":"left","baseline":"alphabetic","dx":3},"encoding":{"x":{"datum":50,"type":"quantitative"},"y":{"datum":2,"type":"quantitative"}}},
{"mark":{"type":"text","text":"0","fontSize":15,"color":"#404040","align":"left","baseline":"alphabetic","dx":3,"dy":-4},"encoding":{"x":{"datum":50,"type":"quantitative"},"y":{"datum":0,"type":"quantitative"}}},
{"mark":{"type":"text","text":"50","fontSize":15,"color":"#404040","align":"left","baseline":"alphabetic","dy":15},"encoding":{"x":{"datum":50,"type":"quantitative"},"y":{"datum":0,"type":"quantitative"}}},
{"mark":{"type":"text","text":"500","fontSize":15,"color":"#404040","align":"right","baseline":"alphabetic","dy":15},"encoding":{"x":{"datum":500,"type":"quantitative"},"y":{"datum":0,"type":"quantitative"}}}]}]},
{"width":243,"height":129,"resolve":{"scale":{"y":"independent"}},"layer":[
{"data":{"values":[{}]},"layer":[
{"mark":{"type":"rule","color":"#cccccc","strokeWidth":1.5},"encoding":{"x":{"datum":0,"type":"quantitative","scale":{"domain":[-223.2,500],"nice":false,"zero":false}},"y":{"datum":0,"type":"quantitative","scale":{"domain":[0,2523],"nice":false,"zero":false}},"y2":{"datum":1721}}},
{"mark":{"type":"rect","fillOpacity":0,"stroke":"#cccccc","strokeWidth":1.5},"encoding":{"x":{"datum":50,"type":"quantitative"},"x2":{"datum":500},"y":{"datum":-20,"type":"quantitative"},"y2":{"datum":200}}},
{"data":{"name":"fftm3"},"mark":{"type":"line","color":"#5cb85c","strokeWidth":1.3},"encoding":{"x":{"field":"f","type":"quantitative"},"y":{"field":"a","type":"quantitative"}}},
{"mark":{"type":"text","text":"1721","fontSize":13,"color":"#404040","angle":270,"align":"right","baseline":"alphabetic","dy":-8},"encoding":{"x":{"datum":0,"type":"quantitative"},"y":{"datum":1721,"type":"quantitative"}}},
{"mark":{"type":"text","text":"0","fontSize":15,"color":"#404040","align":"left","baseline":"alphabetic","dy":17},"encoding":{"x":{"datum":0,"type":"quantitative"},"y":{"datum":0,"type":"quantitative"}}},
{"mark":{"type":"text","text":"500","fontSize":15,"color":"#404040","align":"right","baseline":"alphabetic","dy":17},"encoding":{"x":{"datum":500,"type":"quantitative"},"y":{"datum":0,"type":"quantitative"}}},
{"mark":{"type":"text","text":"Frekvence","fontSize":15,"fontWeight":"bold","color":"#1e1e1e","align":"left","baseline":"alphabetic","dx":15,"dy":25},"encoding":{"x":{"datum":0,"type":"quantitative"},"y":{"datum":0,"type":"quantitative"}}},
{"mark":{"type":"text","text":"[Hz]","fontSize":15,"color":"#707070","align":"left","baseline":"alphabetic","dx":104,"dy":25},"encoding":{"x":{"datum":0,"type":"quantitative"},"y":{"datum":0,"type":"quantitative"}}},
{"mark":{"type":"text","text":"⇧","fontSize":22,"color":"#b4b4b4","align":"center","baseline":"middle"},"encoding":{"x":{"datum":280,"type":"quantitative"},"y":{"datum":567,"type":"quantitative"}}}]},
{"data":{"values":[{}]},"layer":[
{"mark":{"type":"rect","fillOpacity":0,"stroke":"#cccccc","strokeWidth":1.5},"encoding":{"x":{"datum":50,"type":"quantitative"},"x2":{"datum":500},"y":{"datum":0,"type":"quantitative","scale":{"domain":[-1.52,2.57],"nice":false,"zero":false}},"y2":{"datum":2}}},
{"data":{"name":"fftz3"},"mark":{"type":"line","color":"#5cb85c","strokeWidth":1.2,"invalid":"break-paths-filter-domains"},"encoding":{"x":{"field":"f","type":"quantitative"},"y":{"field":"a","type":"quantitative"}}},
{"mark":{"type":"text","text":"2","fontSize":15,"color":"#404040","align":"left","baseline":"alphabetic","dx":3},"encoding":{"x":{"datum":50,"type":"quantitative"},"y":{"datum":2,"type":"quantitative"}}},
{"mark":{"type":"text","text":"0","fontSize":15,"color":"#404040","align":"left","baseline":"alphabetic","dx":3,"dy":-4},"encoding":{"x":{"datum":50,"type":"quantitative"},"y":{"datum":0,"type":"quantitative"}}},
{"mark":{"type":"text","text":"50","fontSize":15,"color":"#404040","align":"left","baseline":"alphabetic","dy":15},"encoding":{"x":{"datum":50,"type":"quantitative"},"y":{"datum":0,"type":"quantitative"}}},
{"mark":{"type":"text","text":"500","fontSize":15,"color":"#404040","align":"right","baseline":"alphabetic","dy":15},"encoding":{"x":{"datum":500,"type":"quantitative"},"y":{"datum":0,"type":"quantitative"}}}]}]}
]
}
